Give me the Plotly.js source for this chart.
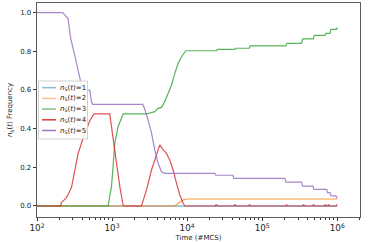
<!DOCTYPE html>
<html><head><meta charset="utf-8">
<script src="https://cdn.plot.ly/plotly-3.0.1.min.js"></script>
<style>html,body{margin:0;padding:0;background:#fff}#chart{width:368px;height:242px}</style>
</head><body><div id="chart"></div>
<script>
const seriesNames = ['<i>n</i><sub>S</sub>(<i>t</i>)=1','<i>n</i><sub>S</sub>(<i>t</i>)=2','<i>n</i><sub>S</sub>(<i>t</i>)=3','<i>n</i><sub>S</sub>(<i>t</i>)=4','<i>n</i><sub>S</sub>(<i>t</i>)=5'];
const colors = ['#1f77b4','#ff7f0e','#2ca02c','#d62728','#9467bd'];

const t1 = [100, 1000000];
const v1 = [0, 0];

const t2 = [100, 6855, 7586, 8851, 9817, 1000000];
const v2 = [0, 0, 0.014, 0.031, 0.036, 0.036];

const t3 = [100, 885, 903, 982, 1031, 1086, 1202, 1333, 1402, 2877, 3351, 3707, 4104, 4557, 5045, 5580, 6194, 6855, 7586, 8420, 9317, 9610,
  24660, 25300, 43260, 44600, 67080, 69200, 207000, 213500, 335000, 345600, 479000, 493500, 685000, 706000, 800000, 824000, 982000, 1000000];
const v3 = [0, 0, 0.02, 0.1, 0.2, 0.324, 0.41, 0.462, 0.476, 0.476, 0.483, 0.488, 0.505, 0.51, 0.54, 0.583, 0.626, 0.686, 0.738, 0.772, 0.798, 0.803,
  0.803, 0.81, 0.81, 0.816, 0.816, 0.828, 0.828, 0.841, 0.841, 0.864, 0.864, 0.883, 0.883, 0.893, 0.893, 0.914, 0.914, 0.924];

const t4 = [100, 207, 211, 247, 288, 352, 411, 504, 558, 588, 931, 982, 1064, 1145, 1268, 1402, 1433, 2467, 2877, 3351, 3908, 4325, 4786, 5309, 5872, 6503, 7223, 7998, 8851, 9317,
  23800, 24150, 24900, 25200, 42300, 42880, 44000, 44500, 66200, 67080, 68800, 69500, 204000, 207000, 212000, 214000,
  347000, 352000, 360000, 364000, 472000, 479000, 489000, 494000, 676000, 685000, 700000, 705000, 749000, 759000, 775000, 780000, 970000, 982000, 1000000];
const v4 = [0, 0, 0.017, 0.043, 0.095, 0.27, 0.35, 0.44, 0.47, 0.476, 0.476, 0.41, 0.307, 0.203, 0.1, 0.005, 0, 0, 0.083, 0.186, 0.272, 0.316, 0.29, 0.272, 0.238, 0.186, 0.117, 0.057, 0.014, 0,
  0, 0.006, 0.006, 0, 0, 0.006, 0.006, 0, 0, 0.006, 0.006, 0, 0, 0.006, 0.006, 0,
  0, 0.006, 0.006, 0, 0, 0.006, 0.006, 0, 0, 0.006, 0.006, 0, 0, 0.006, 0.006, 0, 0, 0.006, 0.006];

const t5 = [100, 220, 259, 281, 318, 360, 391, 407, 504, 531, 553, 2567, 2729, 3020, 3351, 3707, 4104, 4557, 5045, 23400, 24150, 40600, 41950, 200900, 207000, 335000, 345600, 474200, 488500, 722000, 740000, 800000, 824000, 961000, 1000000];
const v5 = [1, 1, 0.97, 0.867, 0.78, 0.678, 0.626, 0.6, 0.6, 0.54, 0.526, 0.526, 0.5, 0.445, 0.378, 0.29, 0.221, 0.177, 0.169, 0.169, 0.159, 0.159, 0.143, 0.143, 0.123, 0.123, 0.103, 0.103, 0.086, 0.086, 0.069, 0.069, 0.052, 0.052, 0.04];

const T = [t1,t2,t3,t4,t5], V = [v1,v2,v3,v4,v5];
const traces = T.map((t,i) => ({
  x: t, y: V[i], type: 'scatter', mode: 'lines', name: seriesNames[i], showlegend: false,
  line: {color: colors[i], width: 1.2}, opacity: 0.8
}));

// custom compact legend (matplotlib-like), positioned in paper coords
const W = 368, H = 242, ML = 37, MR = 8, MT = 3, MB = 25;
const pw = W - ML - MR, ph = H - MT - MB;
const px = x => (x - ML) / pw;
const py = y => (H - MB - y) / ph;
const legendOpacity = [0.5, 0.5, 0.6, 0.9, 0.9];
const shapes = [{type: 'rect', xref: 'paper', yref: 'paper', x0: px(38.5), x1: px(87.5), y0: py(139), y1: py(81),
  line: {color: '#d0d0d0', width: 1}, fillcolor: 'rgba(255,255,255,0.85)', layer: 'above'}];
const annotations = [];
seriesNames.forEach((nm, i) => {
  const yy = 87.7 + i * 10.7;
  shapes.push({type: 'line', xref: 'paper', yref: 'paper', x0: px(42), x1: px(56), y0: py(yy), y1: py(yy),
    line: {color: colors[i], width: 1.5}, opacity: legendOpacity[i], layer: 'above'});
  annotations.push({xref: 'paper', yref: 'paper', x: px(58), y: py(yy), xanchor: 'left', yanchor: 'middle', showarrow: false,
    text: nm, font: {family: 'DejaVu Sans', size: 7, color: '#222'}});
});

const tickFont = {family: 'DejaVu Sans', size: 7, color: '#222'};
const layout = {
  width: W, height: H,
  margin: {l: ML, r: MR, t: MT, b: MB},
  paper_bgcolor: '#fff', plot_bgcolor: '#fff',
  showlegend: false, shapes: shapes, annotations: annotations,
  xaxis: {type: 'log', range: [2, 6.303], dtick: 1, exponentformat: 'power', showgrid: false, zeroline: false,
    ticks: 'outside', ticklen: 3.5, tickcolor: '#333', showline: true, linecolor: '#333', linewidth: 0.8, mirror: true,
    tickfont: tickFont, minor: {ticks: 'outside', ticklen: 2, tickcolor: '#333', dtick: 'D1', showgrid: false},
    title: {text: 'Time (#MCS)', font: {family: 'DejaVu Sans', size: 7, color: '#222'}, standoff: 2}},
  yaxis: {range: [-0.057, 1.05], dtick: 0.2, tick0: 0, tickformat: '.1f', showgrid: false, zeroline: false,
    ticks: 'outside', ticklen: 3.5, tickcolor: '#333', showline: true, linecolor: '#333', linewidth: 0.8, mirror: true,
    tickfont: tickFont,
    title: {text: '<i>n</i><sub>S</sub>(<i>t</i>) Frequency', font: {family: 'DejaVu Sans', size: 7, color: '#222'}, standoff: 6}}
};
Plotly.newPlot('chart', traces, layout, {staticPlot: true, displayModeBar: false});
</script></body></html>
